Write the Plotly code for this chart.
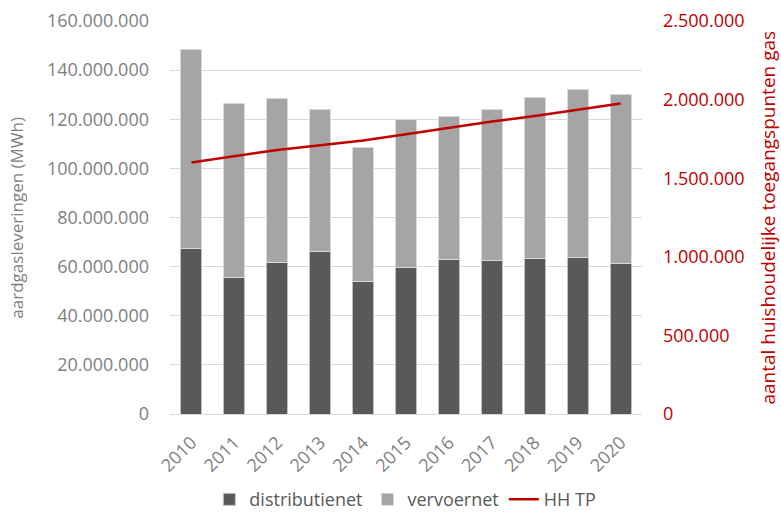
import plotly.graph_objects as go

years = ["2010", "2011", "2012", "2013", "2014", "2015", "2016", "2017", "2018", "2019", "2020"]
distributienet = [67.5e6, 55.7e6, 61.6e6, 66.0e6, 53.9e6, 59.7e6, 63.1e6, 62.6e6, 63.4e6, 63.6e6, 61.2e6]
totaal = [148.6e6, 126.5e6, 128.3e6, 123.8e6, 108.6e6, 119.7e6, 121.3e6, 123.9e6, 128.8e6, 132.2e6, 130.2e6]
vervoernet = [t - d for t, d in zip(totaal, distributienet)]
hh_tp = [1.60e6, 1.64e6, 1.68e6, 1.71e6, 1.74e6, 1.78e6, 1.82e6, 1.86e6, 1.895e6, 1.935e6, 1.975e6]

left_ticks = [0, 20e6, 40e6, 60e6, 80e6, 100e6, 120e6, 140e6, 160e6]
left_labels = ["0", "20.000.000", "40.000.000", "60.000.000", "80.000.000", "100.000.000",
               "120.000.000", "140.000.000", "160.000.000"]
right_ticks = [0, 500e3, 1e6, 1.5e6, 2e6, 2.5e6]
right_labels = ["0", "500.000", "1.000.000", "1.500.000", "2.000.000", "2.500.000"]

FONT = "Open Sans"
GREY = "#808080"
RED = "#c00000"

fig = go.Figure()
fig.add_trace(go.Bar(x=years, y=distributienet, name="distributienet",
                     marker=dict(color="#595959", line=dict(color="#bfbfbf", width=1))))
fig.add_trace(go.Bar(x=years, y=vervoernet, name="vervoernet",
                     marker=dict(color="#a5a5a5", line=dict(color="#d9d9d9", width=1))))
fig.add_trace(go.Scatter(x=years, y=hh_tp, name="HH TP", mode="lines", yaxis="y2",
                         line=dict(color=RED, width=2.5)))

fig.update_layout(
    width=781, height=513,
    margin=dict(l=170, r=139, t=21, b=99, autoexpand=False),
    paper_bgcolor="white", plot_bgcolor="white",
    barmode="stack", bargap=0.51,
    font=dict(family=FONT, size=18, color=GREY),
    showlegend=True,
    legend=dict(orientation="h", x=0.519, xref="container", xanchor="center",
                y=0.026, yref="container", yanchor="middle",
                font=dict(size=18, color="#595959"), itemwidth=30, traceorder="normal"),
    xaxis=dict(tickangle=-45, showgrid=False, showline=True, linecolor="#d9d9d9",
               tickfont=dict(size=18, color=GREY), ticks="", automargin=False,
               ticklabelstandoff=10),
    yaxis=dict(range=[0, 160e6], tickvals=left_ticks, ticktext=left_labels,
               showgrid=True, gridcolor="#d9d9d9", gridwidth=1, zeroline=False,
               tickfont=dict(size=18, color=GREY), ticklabelstandoff=20, automargin=False),
    yaxis2=dict(range=[0, 2.5e6], tickvals=right_ticks, ticktext=right_labels, overlaying="y",
                side="right", showgrid=False, zeroline=False, automargin=False,
                tickfont=dict(size=18, color=RED), ticklabelstandoff=20),
    annotations=[
        dict(text="aardgasleveringen (MWh)", xref="paper", yref="paper", x=-0.326, y=0.5,
             textangle=-90, showarrow=False, font=dict(size=17, color=GREY),
             xanchor="center", yanchor="middle"),
        dict(text="aantal huishoudelijke toegangspunten gas", xref="paper", yref="paper",
             x=1.265, y=0.5, textangle=-90, showarrow=False, font=dict(size=19, color=RED),
             xanchor="center", yanchor="middle"),
    ],
)

fig.write_html("out.html")
